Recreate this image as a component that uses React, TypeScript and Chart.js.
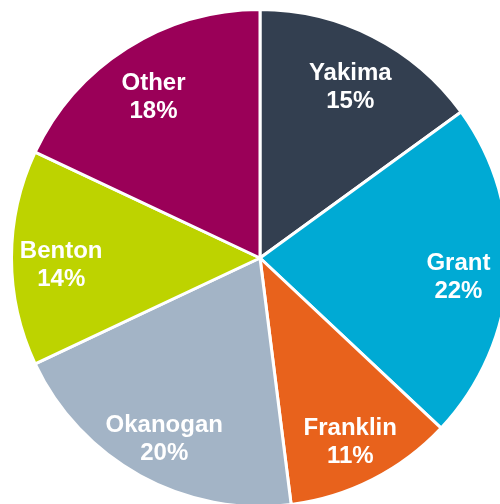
import React, { useEffect, useRef } from "react";
import { Chart, registerables } from "chart.js";

Chart.register(...registerables);

const categories = ["Yakima", "Grant", "Franklin", "Okanogan", "Benton", "Other"];
const shares = [15, 22, 11, 20, 14, 18];
const colors = ["#333F50", "#00AAD4", "#E8621C", "#A3B4C6", "#BDD300", "#9A0058"];

const labelPlugin = {
  id: "sliceLabels",
  afterDatasetsDraw(chart: any) {
    const { ctx } = chart;
    const meta = chart.getDatasetMeta(0);
    ctx.save();
    ctx.fillStyle = "#FFFFFF";
    ctx.font = "bold 24px 'Liberation Sans', Arial, sans-serif";
    ctx.textAlign = "center";
    ctx.textBaseline = "middle";
    meta.data.forEach((arc: any, i: number) => {
      const p = arc.getProps(["x", "y", "startAngle", "endAngle", "outerRadius"], true);
      const mid = (p.startAngle + p.endAngle) / 2;
      const r = p.outerRadius * 0.8;
      const x = p.x + Math.cos(mid) * r;
      const y = p.y + Math.sin(mid) * r + 6;
      ctx.fillText(categories[i], x, y - 13);
      ctx.fillText(shares[i] + "%", x, y + 15);
    });
    ctx.restore();
  },
};

export default function App() {
  const ref = useRef<HTMLCanvasElement>(null);
  useEffect(() => {
    if (!ref.current) return;
    const chart = new Chart(ref.current, {
      type: "pie",
      data: {
        labels: categories,
        datasets: [
          {
            data: shares,
            backgroundColor: colors,
            borderColor: "#FFFFFF",
            borderWidth: 3,
          },
        ],
      },
      options: {
        animation: false,
        responsive: true,
        maintainAspectRatio: false,
        layout: { padding: 0 },
        plugins: {
          legend: { display: false },
          tooltip: { enabled: false },
        },
      },
      plugins: [labelPlugin],
    });
    return () => chart.destroy();
  }, []);
  return (
    <div
      style={{
        position: "absolute",
        left: 0,
        top: 0,
        width: 500,
        height: 504,
        overflow: "hidden",
        background: "#FFFFFF",
      }}
    >
      <div style={{ position: "absolute", left: 10, top: 8, width: 500, height: 500 }}>
        <canvas ref={ref} />
      </div>
    </div>
  );
}
